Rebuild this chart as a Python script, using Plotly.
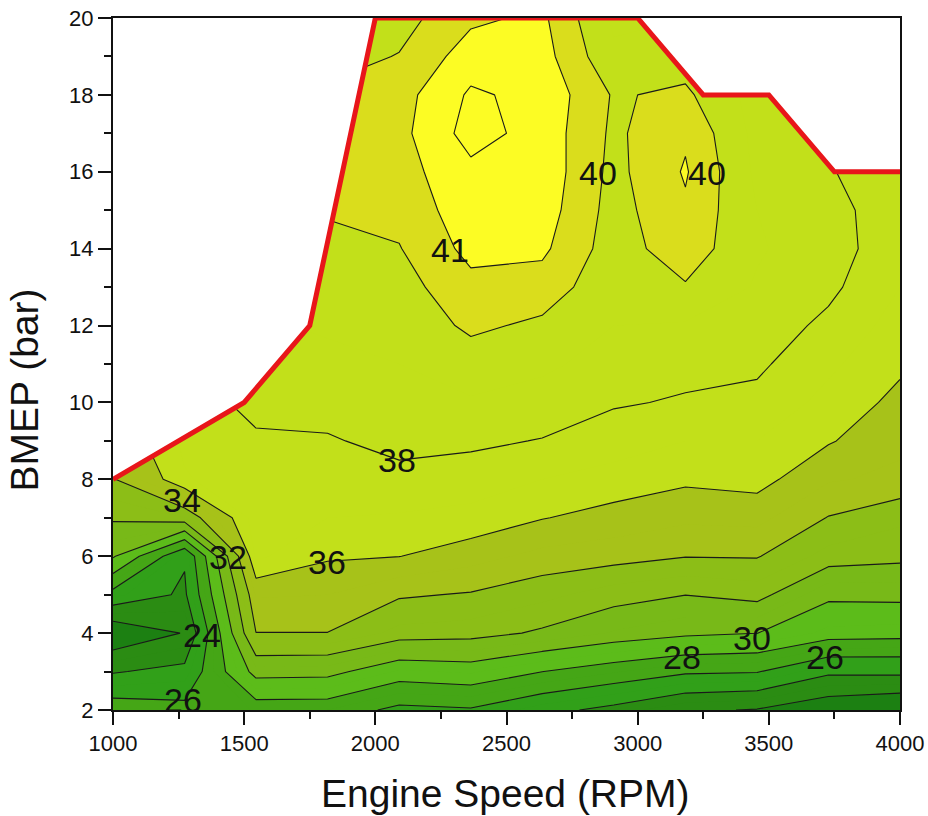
import plotly.graph_objects as go

# Engine speed grid (RPM) and BMEP grid (bar)
speed = [1000, 1273, 1545, 1818, 2091, 2364, 2636, 2909, 3182, 3455, 3727, 4000]
bmep = [2, 3, 4, 5, 6, 7, 8, 9, 10, 11, 12, 13, 14, 15, 16, 17, 18, 19, 20]

# Brake thermal efficiency (%) per speed column, listed from 2 to 20 bar
bte_1000 = [26.95, 23.87, 20.53, 25.3, 30.2, 32.2, 33.9, 35.0, 35.8, 36.5, 37.0, 37.4, 37.8, 38.0, 38.2, 38.3, 38.3, 38.2, 38.1]
bte_1273 = [26.5, 24.5, 22.1, 23.7, 24.2, 33.0, 36.9, 37.2, 37.5, 38.0, 38.3, 38.6, 38.9, 39.1, 39.2, 39.2, 39.1, 39.0, 38.8]
bte_1545 = [27.04, 30.6, 33.98, 35.1, 37.2, 37.5, 37.7, 37.85, 38.3, 38.6, 38.9, 39.2, 39.4, 39.6, 39.7, 39.7, 39.6, 39.4, 39.2]
bte_1818 = [27.0, 30.5, 33.98, 35.0, 36.15, 37.0, 37.6, 37.9, 38.4, 38.8, 39.1, 39.4, 39.7, 40.1, 40.4, 40.5, 40.2, 39.6, 39.2]
bte_2091 = [25.57, 28.85, 32.68, 34.15, 36.02, 36.9, 37.7, 38.3, 38.7, 39.0, 39.3, 39.6, 39.95, 40.3, 40.6, 40.7, 40.6, 40.05, 39.6]
bte_2364 = [25.83, 29.17, 32.5, 33.9, 35.4, 36.7, 37.5, 38.2, 38.9, 39.5, 40.2, 40.7, 41.3, 41.6, 41.75, 42.4, 42.15, 41.5, 40.8]
bte_2636 = [24.5, 28.02, 31.8, 33.3, 34.7, 36.05, 37.0, 37.95, 38.6, 39.2, 39.8, 40.55, 41.2, 41.5, 41.65, 41.6, 41.7, 41.4, 41.2]
bte_2909 = [23.54, 27.11, 30.9, 32.5, 34.45, 35.6, 36.6, 37.5, 38.1, 38.6, 39.0, 39.3, 39.5, 39.6, 39.7, 39.8, 39.9, 39.2, 38.8]
bte_3182 = [22.24, 26.24, 30.3, 32.02, 34.05, 35.2, 36.2, 37.0, 37.9, 38.3, 38.9, 39.9, 40.6, 40.85, 41.1, 40.85, 40.2, 39.5, 39.0]
bte_3455 = [21.9, 26.1, 30.02, 32.44, 34.08, 35.3, 36.4, 37.0, 37.7, 38.2, 38.6, 38.9, 39.1, 39.0, 38.8, 38.7, 38.6, 38.5, 38.3]
bte_3727 = [20.75, 24.32, 28.74, 30.28, 32.64, 33.95, 35.1, 36.1, 36.7, 37.2, 37.75, 38.25, 38.5, 38.3, 38.05, 38.0, 37.9, 37.8, 37.7]
bte_4000 = [20.13, 24.4, 28.6, 30.35, 32.36, 33.2, 34.8, 35.2, 35.7, 36.2, 36.6, 37.0, 37.3, 37.5, 37.6, 37.5, 37.5, 37.5, 37.5]

# Full-load limit line
limit_speed = [1000, 1500, 1750, 2000, 3000, 3250, 3500, 3750, 4000]
limit_bmep = [8, 10, 12, 20, 20, 18, 18, 16, 16]

# Contour labels
label_text = ["41", "40", "40", "38", "36", "34", "32", "24", "26", "28", "30", "26"]
label_speed = [2285, 2850, 3263, 2081, 1815, 1262, 1440, 1338, 1268, 3168, 3435, 3714]
label_bmep = [13.97, 15.96, 15.96, 8.5, 5.86, 7.46, 5.97, 3.95, 2.26, 3.39, 3.87, 3.39]

# Band colours (by lower contour level)
band_color = {
    "lt22": "#1c8012",
    22: "#2b8c13",
    24: "#31a019",
    26: "#45a616",
    28: "#5cbc1a",
    30: "#78b918",
    32: "#8cbe17",
    34: "#a7c219",
    36: "#c2e01a",
    38: "#c2e01a",
    40: "#dadd1c",
    41: "#fcfc24",
    42: "#fcfc24",
}

columns = [bte_1000, bte_1273, bte_1545, bte_1818, bte_2091, bte_2364,
           bte_2636, bte_2909, bte_3182, bte_3455, bte_3727, bte_4000]
z = [[col[i] for col in columns] for i in range(len(bmep))]

start, end = 22, 42
nc = end - start + 1


def color_for_band(k):
    if k == 0:
        return band_color["lt22"]
    lo = start + k - 1
    if lo >= 42:
        return band_color[42]
    if lo >= 40:
        return band_color[lo]
    return band_color[lo - (lo % 2)]


scale = []
for k in range(nc + 1):
    c = color_for_band(k)
    a = max(0.0, (k - 0.5) / nc)
    b = min(1.0, (k + 0.5) / nc)
    scale.append([a, c])
    scale.append([b, c])

FONT = "Liberation Sans, Arial, sans-serif"
INK = "#111111"

fig = go.Figure()

fig.add_trace(go.Contour(
    x=speed, y=bmep, z=z,
    autocontour=False,
    contours=dict(start=start, end=end, size=1, coloring="fill", showlines=False),
    colorscale=scale, showscale=False,
    line=dict(width=0, smoothing=0),
    hoverinfo="skip",
))

fig.add_trace(go.Contour(
    x=speed, y=bmep, z=z,
    autocontour=False,
    contours=dict(start=22, end=40, size=2, coloring="none"),
    line=dict(color="#1a1a1a", width=1.1, smoothing=0),
    showscale=False, hoverinfo="skip",
))

fig.add_trace(go.Contour(
    x=speed, y=bmep, z=z,
    autocontour=False,
    contours=dict(start=41, end=42, size=1, coloring="none"),
    line=dict(color="#1a1a1a", width=1.1, smoothing=0),
    showscale=False, hoverinfo="skip",
))

# white mask above the limit line
fig.add_trace(go.Scatter(
    x=limit_speed + [4000, 1000], y=limit_bmep + [21, 21],
    mode="lines", fill="toself", fillcolor="white",
    line=dict(width=0, color="white"), hoverinfo="skip", showlegend=False,
))

fig.add_trace(go.Scatter(
    x=limit_speed, y=limit_bmep, mode="lines",
    line=dict(color="#e8161a", width=5),
    hoverinfo="skip", showlegend=False,
))

for t, sx, sy in zip(label_text, label_speed, label_bmep):
    fig.add_annotation(x=sx, y=sy, text=t, showarrow=False,
                       font=dict(family=FONT, size=34, color=INK))

# axis titles
fig.add_annotation(xref="paper", yref="paper", x=0.4981, y=-0.1207,
                   xanchor="center", yanchor="middle", showarrow=False,
                   text="Engine Speed (RPM)", font=dict(family=FONT, size=39, color=INK))
fig.add_annotation(xref="paper", yref="paper", x=-0.1125, y=0.4624,
                   xanchor="center", yanchor="middle", showarrow=False, textangle=-90,
                   text="BMEP (bar)", font=dict(family=FONT, size=39, color=INK))

fig.update_layout(
    width=928, height=816,
    margin=dict(l=113, r=28, t=18, b=106, autoexpand=False),
    paper_bgcolor="white", plot_bgcolor="white",
    showlegend=False,
    font=dict(family=FONT, color=INK),
)

fig.update_xaxes(
    range=[1000, 4000], tickmode="linear", tick0=1000, dtick=500,
    ticks="outside", ticklen=13, tickwidth=2, tickcolor=INK,
    minor=dict(dtick=250, ticklen=7, tickwidth=2, tickcolor=INK, ticks="outside"),
    showline=True, linecolor=INK, linewidth=2, mirror=True,
    showgrid=False, zeroline=False, automargin=False,
    tickfont=dict(family=FONT, size=22, color=INK),
)
fig.update_yaxes(
    range=[2, 20], tickmode="linear", tick0=2, dtick=2,
    ticks="outside", ticklen=13, tickwidth=2, tickcolor=INK,
    minor=dict(dtick=1, ticklen=7, tickwidth=2, tickcolor=INK, ticks="outside"),
    showline=True, linecolor=INK, linewidth=2, mirror=True,
    showgrid=False, zeroline=False, automargin=False,
    tickfont=dict(family=FONT, size=22, color=INK),
)

fig.write_html("out.html", config={"displayModeBar": False},
               post_script="document.body.style.margin='0px';")
